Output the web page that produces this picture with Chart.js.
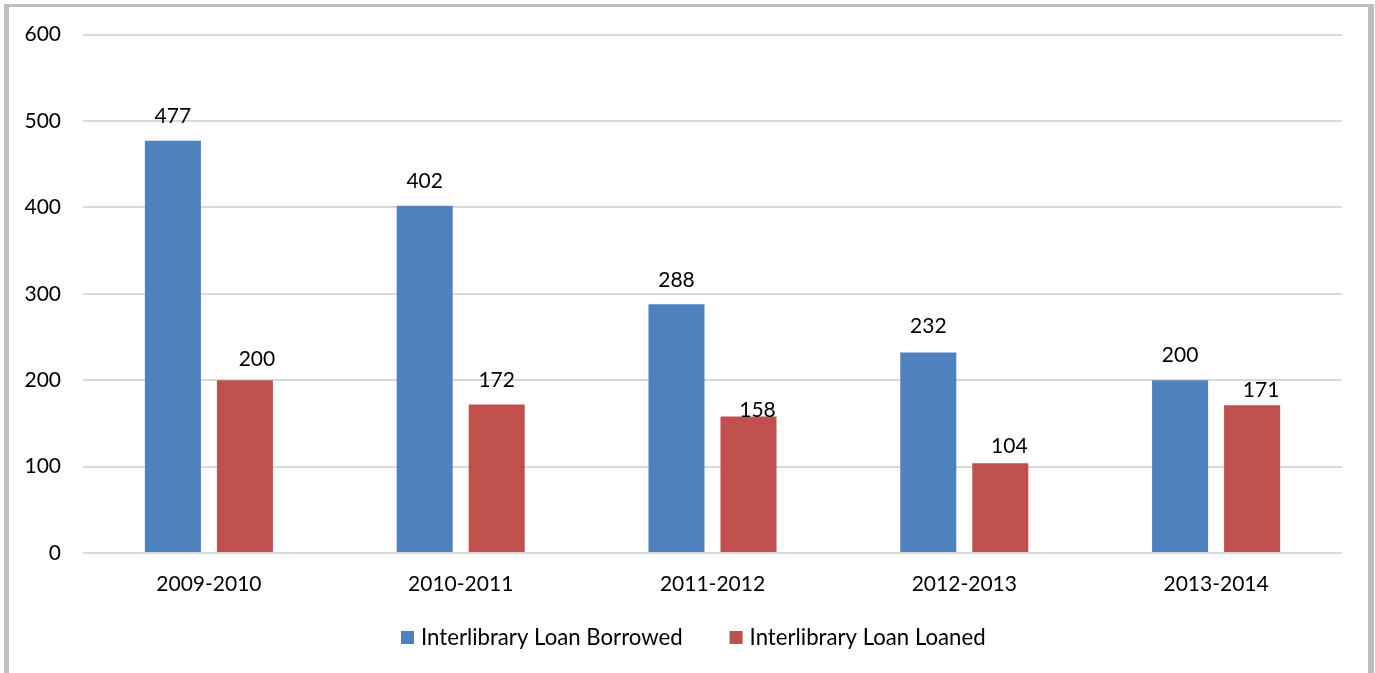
<!DOCTYPE html>
<html>
<head>
<meta charset="utf-8">
<script src="https://cdn.jsdelivr.net/npm/chart.js@4.4.1/dist/chart.umd.min.js"></script>
<style>
  html, body { margin: 0; padding: 0; background: #ffffff; }
  #wrap { position: relative; width: 1375px; height: 673px; overflow: hidden; }
  #wrap canvas { position: absolute; left: 0; top: 0; }
  #frame {
    position: absolute; left: 4px; top: 4px; width: 1359px; height: 700px;
    border-left: 5px solid #bfbfbf; border-top: 3px solid #bfbfbf; border-right: 6px solid #bfbfbf;
    pointer-events: none;
  }
</style>
</head>
<body>
<div id="wrap">
  <canvas id="chart" width="1375" height="673"></canvas>
  <div id="frame"></div>
</div>
<script>
// Academic years on the category axis
const years = ['2009-2010', '2010-2011', '2011-2012', '2012-2013', '2013-2014'];

// Interlibrary loan counts per year
const borrowed = [477, 402, 288, 232, 200];
const loaned = [200, 172, 158, 104, 171];

// Value axis ticks
const yTicks = [0, 100, 200, 300, 400, 500, 600];

const seriesNames = ['Interlibrary Loan Borrowed', 'Interlibrary Loan Loaned'];
const seriesColors = ['#4f81bd', '#c0504d'];

// Nudges for the value labels (px, relative to each bar top)
const labelDx = [[0, 0, 0, 0, 0], [12, 0, 9, 9, 9]];
const labelGap = [[18, 18, 17, 20, 18], [14, 17, -1, 10, 8]];

const FONT = 'Lato, "Noto Sans", sans-serif';
const FONT_SIZE = 21;
const LEGEND_FONT_SIZE = 22.2;

const valueLabels = {
  id: 'valueLabels',
  afterDatasetsDraw(chart) {
    const ctx = chart.ctx;
    ctx.save();
    ctx.font = FONT_SIZE + 'px ' + FONT;
    ctx.fillStyle = '#000000';
    ctx.textAlign = 'center';
    ctx.textBaseline = 'alphabetic';
    chart.data.datasets.forEach((ds, di) => {
      const meta = chart.getDatasetMeta(di);
      meta.data.forEach((bar, i) => {
        ctx.fillText(String(ds.data[i]), bar.x + labelDx[di][i], bar.y - labelGap[di][i]);
      });
    });
    ctx.restore();
  }
};

// Legend row under the axis: swatch, label, then the next item
const bottomLegend = {
  id: 'bottomLegend',
  afterDraw(chart) {
    const ctx = chart.ctx;
    ctx.save();
    ctx.font = LEGEND_FONT_SIZE + 'px ' + FONT;
    ctx.textBaseline = 'alphabetic';
    ctx.textAlign = 'left';
    let x = 401;
    const baseY = 645;
    chart.data.datasets.forEach((ds) => {
      ctx.fillStyle = ds.backgroundColor;
      ctx.fillRect(x, 631, 13, 13);
      x += 13 + 7;
      ctx.fillStyle = '#000000';
      ctx.fillText(ds.label, x, baseY);
      x += ctx.measureText(ds.label).width + 47;
    });
    ctx.restore();
  }
};

new Chart(document.getElementById('chart'), {
  type: 'bar',
  data: {
    labels: years,
    datasets: [
      { label: seriesNames[0], data: borrowed, backgroundColor: seriesColors[0] },
      { label: seriesNames[1], data: loaned, backgroundColor: seriesColors[1] }
    ]
  },
  options: {
    responsive: false,
    animation: false,
    devicePixelRatio: 1,
    categoryPercentage: 0.572,
    barPercentage: 0.778,
    layout: { padding: { left: 0, top: 33, right: 33, bottom: 60 } },
    plugins: {
      legend: { display: false },
      tooltip: { enabled: false }
    },
    scales: {
      x: {
        grid: { display: false, drawTicks: false },
        border: { display: false },
        ticks: { color: '#000000', font: { family: FONT, size: FONT_SIZE }, padding: 19, maxRotation: 0 },
        afterFit(scale) { scale.height = 60; }
      },
      y: {
        min: 0,
        max: 600,
        afterBuildTicks(scale) { scale.ticks = yTicks.map(v => ({ value: v })); },
        grid: { color: '#d9d9d9', lineWidth: 2, drawTicks: false },
        border: { display: false },
        ticks: { color: '#000000', font: { family: FONT, size: FONT_SIZE }, padding: 22 },
        afterFit(scale) { scale.width = 83; }
      }
    }
  },
  plugins: [valueLabels, bottomLegend]
});
</script>
</body>
</html>
